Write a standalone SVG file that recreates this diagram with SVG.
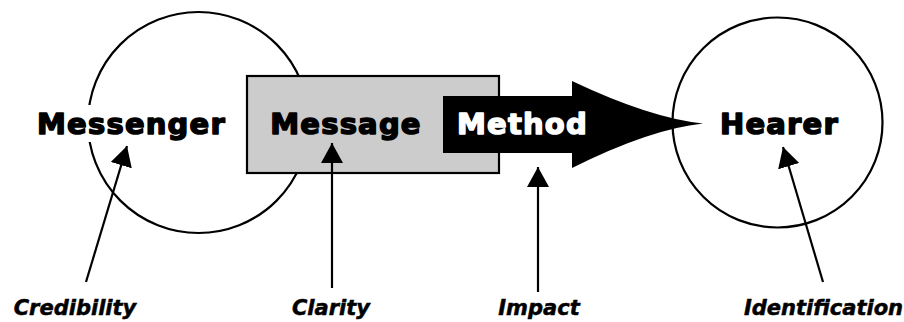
<svg xmlns="http://www.w3.org/2000/svg" width="904" height="322" viewBox="0 0 904 322">
  <defs>
    <style>
      .ring { fill: none; stroke: #000; stroke-width: 2.2; }
      .big { font-family: "DejaVu Sans", "Liberation Sans", sans-serif; font-weight: bold; font-size: 29px; letter-spacing: 1.2px; text-anchor: middle; stroke-width: 1.5px; stroke-linejoin: round; }
      .dark { fill: #000; stroke: #000; }
      .light { fill: #fff; stroke: #fff; }
      .lbl { font-family: "DejaVu Sans", "Liberation Sans", sans-serif; font-weight: bold; font-style: italic; font-size: 21px; text-anchor: middle; fill: #000; stroke: #000; stroke-width: 0.5px; }
      .conn { stroke: #000; stroke-width: 2.2; fill: none; marker-end: url(#head); }
    </style>
    <marker id="head" markerUnits="userSpaceOnUse" markerWidth="22" markerHeight="22" refX="20" refY="11" orient="auto">
      <path d="M0,0 L20,11 L0,22 Z" fill="#000"/>
    </marker>
  </defs>
  <rect width="904" height="322" fill="#fff"/>

  <g id="messenger">
    <circle class="ring" cx="198.5" cy="122.5" r="110.5"/>
    <rect x="34" y="105" width="194" height="37" fill="#fff"/>
    <text class="big dark" x="131.5" y="134">Messenger</text>
  </g>

  <g id="message">
    <rect x="247" y="76" width="252" height="97" fill="#cccccc" stroke="#000" stroke-width="2.2"/>
    <text class="big dark" x="346" y="134">Message</text>
  </g>

  <g id="method">
    <path d="M443,96 L572,96 L572,81 Q650,118 703,123.5 Q650,129 572,168 L572,153 L443,153 Z" fill="#000"/>
    <text class="big light" x="522.5" y="134">Method</text>
  </g>

  <g id="hearer">
    <circle class="ring" cx="777.5" cy="122.5" r="105"/>
    <text class="big dark" x="779.5" y="134">Hearer</text>
  </g>

  <g id="connectors">
    <line class="conn" x1="86" y1="282" x2="127" y2="146"/>
    <line class="conn" x1="332" y1="288" x2="332" y2="143"/>
    <line class="conn" x1="538" y1="292" x2="538" y2="167"/>
    <line class="conn" x1="823" y1="282" x2="783" y2="147"/>
  </g>

  <g id="labels">
    <text class="lbl" x="75" y="315">Credibility</text>
    <text class="lbl" x="331" y="315">Clarity</text>
    <text class="lbl" x="539" y="315">Impact</text>
    <text class="lbl" x="823.5" y="315">Identification</text>
  </g>
</svg>
